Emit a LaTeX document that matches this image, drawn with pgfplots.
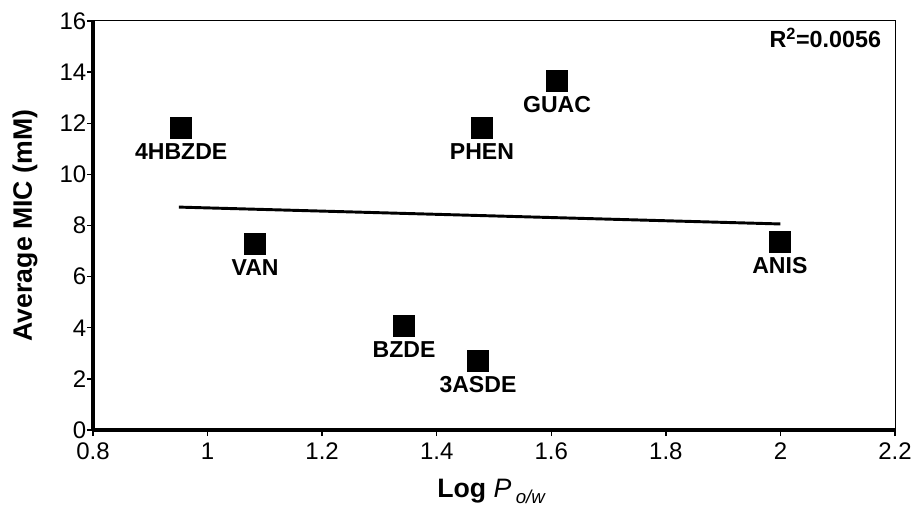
\documentclass[border=0pt]{standalone}
\usepackage{fontspec}
\setmainfont{Liberation Sans}
\usepackage{pgfplots}
\pgfplotsset{compat=1.18}
\begin{document}
\begin{tikzpicture}
\begin{axis}[
  scale only axis,
  width=601.5pt, height=306.75pt,
  xmin=0.8, xmax=2.2, ymin=0, ymax=16,
  xtick={0.8,1,...,2.21}, ytick={0,2,...,16},
  xticklabels={0.8,1,1.2,1.4,1.6,1.8,2,2.2},
  /pgf/number format/assume math mode=true,
  tick label style={font=\fontsize{18}{21}\selectfont},
  yticklabel style={xshift=3pt},
  xticklabel style={yshift=-1.5pt},
  tick align=outside,
  tick style={black, line width=1pt},
  major tick length=4.5pt,
  xtick pos=bottom, ytick pos=left,
  axis line style={line width=0.75pt},
  clip=false,
]
\draw[line width=2.4pt] (rel axis cs:0,0) -- (rel axis cs:0,1);
\draw[line width=2.4pt] (rel axis cs:0,0) -- (rel axis cs:1,0);
\addplot[black, line width=2.2pt] coordinates {(0.95,8.72) (2.0,8.06)};
\addplot[only marks, mark=square*, mark size=7.9pt, black,
  nodes near coords, point meta=explicit symbolic,
  every node near coord/.style={anchor=north, yshift=-11.25pt, inner sep=0pt, font=\fontsize{17.3}{20}\selectfont\bfseries}]
  coordinates {
  (0.954,11.81) [4HBZDE]
  (1.083,7.28) [VAN]
  (1.343,4.07) [BZDE]
  (1.472,2.70) [3ASDE]
  (1.479,11.81) [PHEN]
  (1.610,13.65) [GUAC]
  (1.999,7.35) [ANIS]
  };
\node[anchor=north east, font=\fontsize{17.5}{20}\selectfont\bfseries, inner sep=0pt] at (rel axis cs:0.983,0.983) {R\textsuperscript{2}=0.0056};
\node[rotate=90, anchor=base, inner sep=0pt, font=\fontsize{20}{24}\selectfont\bfseries] at (rel axis cs:-0.0761,0.5) {Average MIC (mM)};
\node[anchor=base west, inner sep=0pt, font=\fontsize{20}{24}\selectfont] at (rel axis cs:0.429,-0.166) {\textbf{Log} \textit{P}\,\raisebox{-4.5pt}{\fontsize{14}{17}\selectfont\textit{o/w}}};
\coordinate (o) at (rel axis cs:0,0);
\coordinate (e) at (rel axis cs:1,1);
\end{axis}
\pgfresetboundingbox
\useasboundingbox ([shift={(-69.75pt,-60pt)}]o) rectangle ([shift={(13.5pt,15.75pt)}]e);
\end{tikzpicture}
\end{document}
